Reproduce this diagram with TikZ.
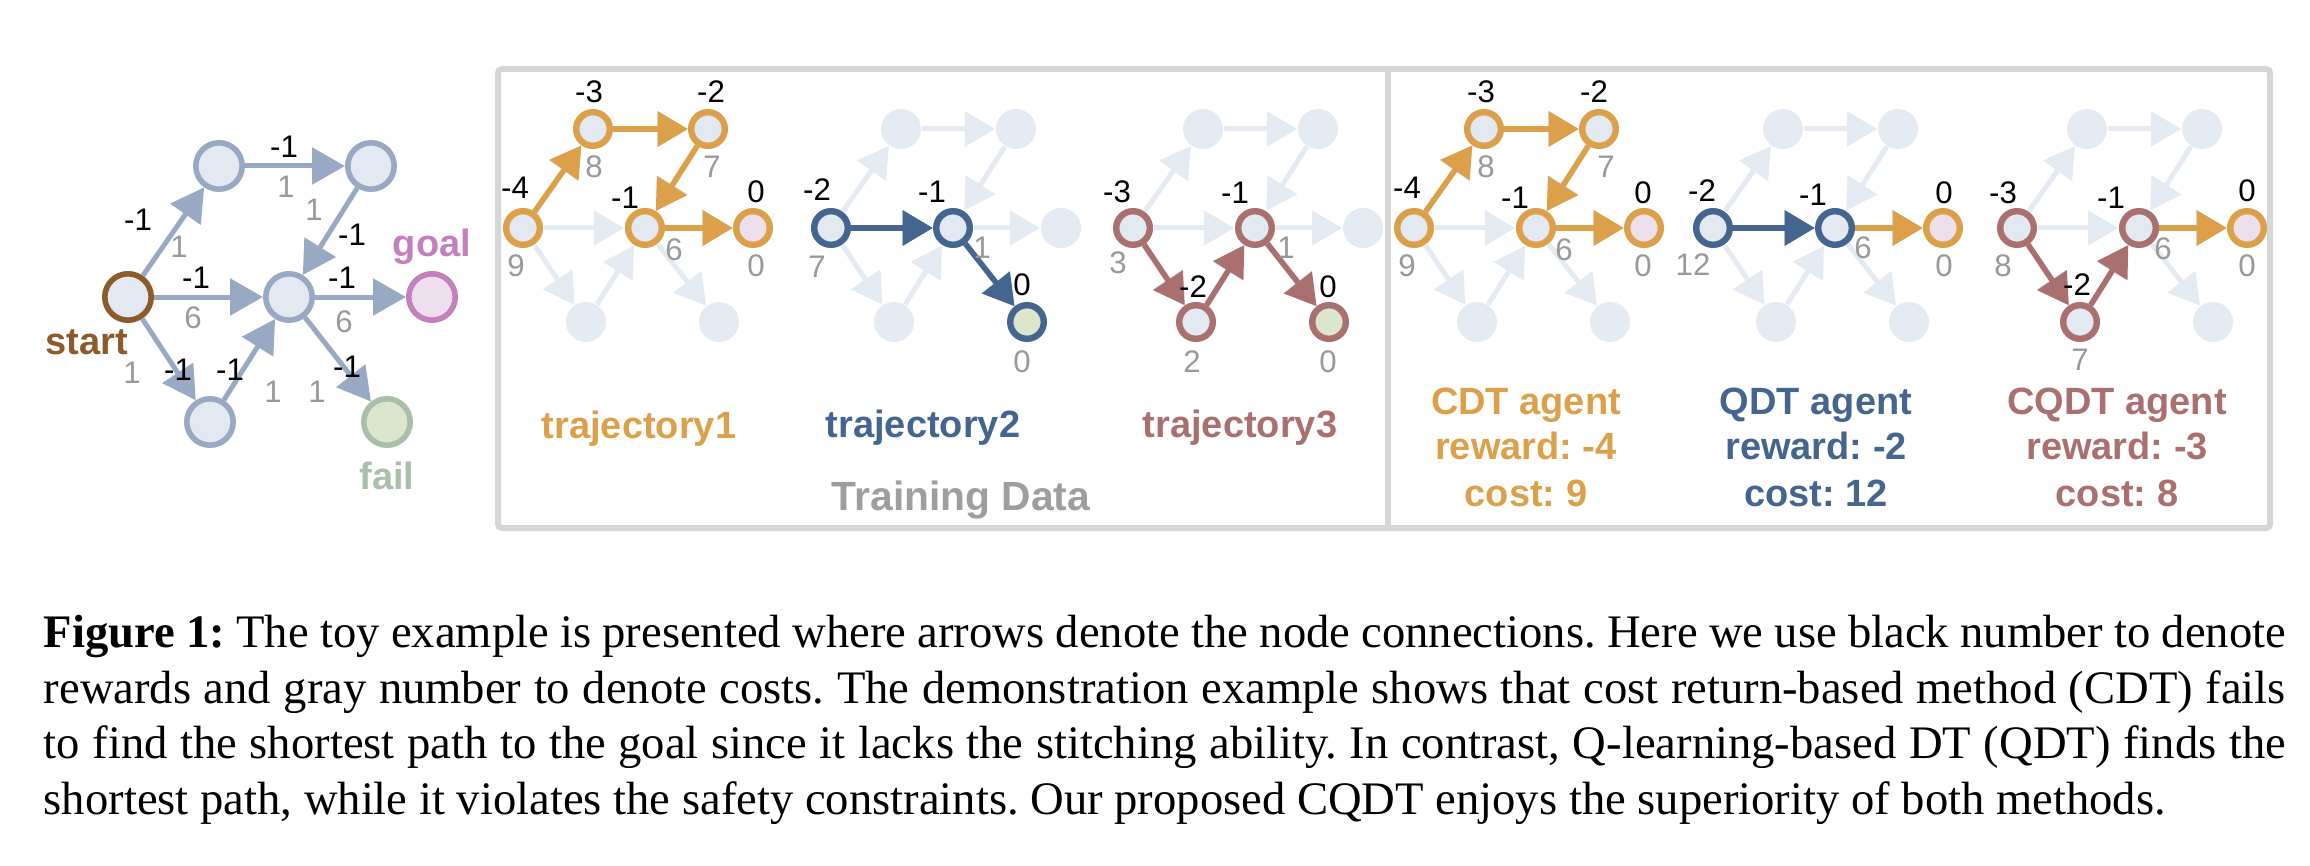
\documentclass[tikz,border=0pt]{standalone}
\usepackage{fontspec}
\setmainfont{Liberation Serif}
\setsansfont{Liberation Sans}
\usetikzlibrary{arrows.meta}

\definecolor{edgeblue}{HTML}{98A9C3}
\definecolor{nodefill}{HTML}{E2E9F0}
\definecolor{fadec}{HTML}{E3EAF1}
\definecolor{startc}{HTML}{8C5A2B}
\definecolor{goalc}{HTML}{C47FBC}
\definecolor{goalfill}{HTML}{EDDFEC}
\definecolor{failc}{HTML}{A9BFA9}
\definecolor{failfill}{HTML}{DBE6CD}
\definecolor{orangec}{HTML}{DCA04A}
\definecolor{bluec}{HTML}{44658F}
\definecolor{redc}{HTML}{AA6F6F}
\definecolor{grayt}{HTML}{999999}
\definecolor{boxc}{HTML}{D6D6D6}
\definecolor{titlegray}{HTML}{9E9E9E}

\newlength\capwd

\newcommand\fadedgraph[2]{%
  \node[fnode] (#1s) at (#2,228) {};
  \node[fnode] (#1tl) at (#2+70,129) {};
  \node[fnode] (#1tr) at (#2+185,129) {};
  \node[fnode] (#1m) at (#2+122,228) {};
  \node[fnode] (#1g) at (#2+230,228) {};
  \node[fnode] (#1bl) at (#2+63,322) {};
  \node[fnode] (#1f) at (#2+196,322) {};
  \draw[fedge] (#1s) -- (#1tl);
  \draw[fedge] (#1tl) -- (#1tr);
  \draw[fedge] (#1tr) -- (#1m);
  \draw[fedge] (#1s) -- (#1m);
  \draw[fedge] (#1m) -- (#1g);
  \draw[fedge] (#1s) -- (#1bl);
  \draw[fedge] (#1bl) -- (#1m);
  \draw[fedge] (#1m) -- (#1f);
}

\begin{document}
\frenchspacing
\settowidth\capwd{\rmfamily\fontsize{10pt}{12pt}\selectfont shortest path, while it violates the safety constraints. Our proposed CQDT enjoys the superiority of both methods.}%
\pgfmathsetmacro\capfs{10*530.5/\capwd}%
\begin{tikzpicture}[x=0.25pt,y=-0.25pt,
  bignode/.style={circle,minimum size=11.6pt,inner sep=0pt,line width=1.4pt,draw=edgeblue,fill=nodefill},
  bigedge/.style={line width=1.25pt,color=edgeblue,-{Triangle[length=8.2pt,width=9pt]}},
  fnode/.style={circle,minimum size=10pt,inner sep=0pt,fill=fadec},
  fedge/.style={line width=1.25pt,color=fadec,-{Triangle[length=7.6pt,width=8.6pt]}},
  hnode/.style={circle,minimum size=8.4pt,inner sep=0pt,line width=1.6pt,draw=#1,fill=nodefill},
  hedge/.style={line width=1.4pt,color=#1,-{Triangle[length=7.6pt,width=8.6pt]}},
  rew/.style={font=\sffamily\fontsize{7.8}{8}\selectfont,text=black,inner sep=0pt},
  cst/.style={font=\sffamily\fontsize{7.8}{8}\selectfont,text=grayt,inner sep=0pt},
  lbl/.style={font=\sffamily\bfseries\fontsize{9.5}{11}\selectfont,inner sep=0pt,anchor=base},
  capline/.style={anchor=base west,inner sep=0pt},
]
\useasboundingbox (0,0) rectangle (2310,866);

% ---------- left graph ----------
\node[bignode,draw=startc] (S) at (128,297) {};
\node[bignode] (TL) at (219,166) {};
\node[bignode] (TR) at (371,166) {};
\node[bignode] (M) at (289,297) {};
\node[bignode,draw=goalc,fill=goalfill] (G) at (432,297) {};
\node[bignode] (BL) at (210,422) {};
\node[bignode,draw=failc,fill=failfill] (F) at (387,422) {};
\draw[bigedge] (S) -- (TL);
\draw[bigedge] (TL) -- (TR);
\draw[bigedge] (TR) -- (M);
\draw[bigedge] (S) -- (M);
\draw[bigedge] (M) -- (G);
\draw[bigedge] (S) -- (BL);
\draw[bigedge] (BL) -- (M);
\draw[bigedge] (M) -- (F);
\node[rew] (lr1) at (138,220) {-1};  \node[cst] (lc1) at (179,247) {1};
\node[rew] (lr2) at (284,147) {-1};  \node[cst] (lc2) at (286,187) {1};
\node[rew] (lr3) at (352,235) {-1};  \node[cst] (lc3) at (314,210) {1};
\node[rew] (lr4) at (196,278) {-1};  \node[cst] (lc4) at (193,318) {6};
\node[rew] (lr5) at (342,278) {-1};  \node[cst] (lc5) at (344,322) {6};
\node[rew] (lr6) at (178,370) {-1};  \node[cst] (lc6) at (132,373) {1};
\node[rew] (lr7) at (230,370) {-1};  \node[cst] (lc7) at (273,392) {1};
\node[rew] (lr8) at (347,367) {-1};  \node[cst] (lc8) at (317,392) {1};
\node[lbl,text=startc] (startlbl) at (87,354) {start};
\node[lbl,text=goalc] (goallbl) at (432,256) {goal};
\node[lbl,text=failc] (faillbl) at (387,489) {fail};

% ---------- frame ----------
\draw[boxc,line width=1.5pt,rounded corners=1pt] (498,69) rectangle (2270,528);
\draw[boxc,line width=1.5pt] (1388,69) -- (1388,528);

% ---------- faded graphs ----------
\fadedgraph{a}{523}
\fadedgraph{b}{831}
\fadedgraph{c}{1133}
\fadedgraph{d}{1414}
\fadedgraph{e}{1713}
\fadedgraph{f}{2017}

% trajectory 1
\node[hnode=orangec] (aS) at (as) {};
\node[hnode=orangec] (aTL) at (atl) {};
\node[hnode=orangec] (aTR) at (atr) {};
\node[hnode=orangec] (aM) at (am) {};
\node[hnode=orangec,fill=goalfill] (aG) at (ag) {};
\draw[hedge=orangec] (aS) -- (aTL);
\draw[hedge=orangec] (aTL) -- (aTR);
\draw[hedge=orangec] (aTR) -- (aM);
\draw[hedge=orangec] (aM) -- (aG);
\node[rew] at (515,188) {-4}; \node[cst] at (516,266) {9};
\node[rew] at (589,92) {-3};  \node[cst] at (594,167) {8};
\node[rew] at (711,92) {-2};  \node[cst] at (712,167) {7};
\node[rew] at (625,198) {-1}; \node[cst] at (674,250) {6};
\node[rew] at (756,192) {0};  \node[cst] at (756,266) {0};
\node[lbl,text=orangec] (t1lbl) at (639,438) {trajectory1};

% trajectory 2
\node[hnode=bluec] (bS) at (bs) {};
\node[hnode=bluec] (bM) at (bm) {};
\node[hnode=bluec,fill=failfill] (bF) at (bf) {};
\draw[hedge=bluec] (bS) -- (bM);
\draw[hedge=bluec] (bM) -- (bF);
\node[rew] at (817,190) {-2};  \node[cst] at (817,267) {7};
\node[rew] at (932,192) {-1};  \node[cst] at (982,248) {1};
\node[rew] at (1022,285) {0};  \node[cst] at (1022,362) {0};
\node[lbl,text=bluec] (t2lbl) at (923,437) {trajectory2};

% trajectory 3
\node[hnode=redc] (cS) at (cs) {};
\node[hnode=redc] (cBL) at (cbl) {};
\node[hnode=redc] (cM) at (cm) {};
\node[hnode=redc,fill=failfill] (cF) at (cf) {};
\draw[hedge=redc] (cS) -- (cBL);
\draw[hedge=redc] (cBL) -- (cM);
\draw[hedge=redc] (cM) -- (cF);
\node[rew] at (1117,192) {-3}; \node[cst] at (1118,263) {3};
\node[rew] at (1193,287) {-2}; \node[cst] at (1192,362) {2};
\node[rew] at (1235,193) {-1}; \node[cst] at (1286,248) {1};
\node[rew] at (1328,287) {0};  \node[cst] at (1328,362) {0};
\node[lbl,text=redc] (t3lbl) at (1240,437) {trajectory3};

\node[lbl,text=titlegray,font=\sffamily\bfseries\fontsize{10.2}{12}\selectfont] (tdlbl) at (961,510) {Training Data};

% CDT agent
\node[hnode=orangec] (dS) at (ds) {};
\node[hnode=orangec] (dTL) at (dtl) {};
\node[hnode=orangec] (dTR) at (dtr) {};
\node[hnode=orangec] (dM) at (dm) {};
\node[hnode=orangec,fill=goalfill] (dG) at (dg) {};
\draw[hedge=orangec] (dS) -- (dTL);
\draw[hedge=orangec] (dTL) -- (dTR);
\draw[hedge=orangec] (dTR) -- (dM);
\draw[hedge=orangec] (dM) -- (dG);
\node[rew] at (1407,188) {-4}; \node[cst] at (1407,266) {9};
\node[rew] at (1481,92) {-3};  \node[cst] at (1486,167) {8};
\node[rew] at (1594,92) {-2};  \node[cst] at (1606,167) {7};
\node[rew] at (1515,198) {-1}; \node[cst] at (1564,250) {6};
\node[rew] at (1643,193) {0};  \node[cst] at (1643,266) {0};
\node[lbl,text=orangec] (cdt1) at (1526,414) {CDT agent};
\node[lbl,text=orangec] (cdt2) at (1526,459) {reward: -4};
\node[lbl,text=orangec] (cdt3) at (1526,506) {cost: 9};

% QDT agent
\node[hnode=bluec] (eS) at (es) {};
\node[hnode=bluec] (eM) at (em) {};
\node[hnode=orangec,fill=goalfill] (eG) at (eg) {};
\draw[hedge=bluec] (eS) -- (eM);
\draw[hedge=orangec] (eM) -- (eG);
\node[rew] at (1702,191) {-2}; \node[cst] at (1693,265) {12};
\node[rew] at (1813,195) {-1}; \node[cst] at (1863,248) {6};
\node[rew] at (1944,193) {0};  \node[cst] at (1944,266) {0};
\node[lbl,text=bluec] (qdt1) at (1816,414) {QDT agent};
\node[lbl,text=bluec] (qdt2) at (1816,459) {reward: -2};
\node[lbl,text=bluec] (qdt3) at (1816,506) {cost: 12};

% CQDT agent
\node[hnode=redc] (fS) at (fs) {};
\node[hnode=redc] (fBL) at (fbl) {};
\node[hnode=redc] (fM) at (fm) {};
\node[hnode=orangec,fill=goalfill] (fG) at (fg) {};
\draw[hedge=redc] (fS) -- (fBL);
\draw[hedge=redc] (fBL) -- (fM);
\draw[hedge=orangec] (fM) -- (fG);
\node[rew] at (2003,193) {-3}; \node[cst] at (2003,266) {8};
\node[rew] at (2077,285) {-2}; \node[cst] at (2080,360) {7};
\node[rew] at (2111,198) {-1}; \node[cst] at (2163,249) {6};
\node[rew] at (2247,191) {0};  \node[cst] at (2247,266) {0};
\node[lbl,text=redc] (cqdt1) at (2117,414) {CQDT agent};
\node[lbl,text=redc] (cqdt2) at (2117,459) {reward: -3};
\node[lbl,text=redc] (cqdt3) at (2117,506) {cost: 8};

% ---------- caption ----------
\node[capline,font=\rmfamily\fontsize{\capfs pt}{\capfs pt}\selectfont] (cap1) at (43,647) {\makebox[560.5pt][s]{\textbf{Figure 1:} The toy example is presented where arrows denote the node connections. Here we use black number to denote}};
\node[capline,font=\rmfamily\fontsize{\capfs pt}{\capfs pt}\selectfont] (cap2) at (43,703) {\makebox[560.5pt][s]{rewards and gray number to denote costs. The demonstration example shows that cost return-based method (CDT) fails}};
\node[capline,font=\rmfamily\fontsize{\capfs pt}{\capfs pt}\selectfont] (cap3) at (43,758) {\makebox[560.5pt][s]{to find the shortest path to the goal since it lacks the stitching ability. In contrast, Q-learning-based DT (QDT) finds the}};
\node[capline,font=\rmfamily\fontsize{\capfs pt}{\capfs pt}\selectfont] (cap4) at (43,814) {shortest path, while it violates the safety constraints. Our proposed CQDT enjoys the superiority of both methods.};
\end{tikzpicture}
\end{document}
